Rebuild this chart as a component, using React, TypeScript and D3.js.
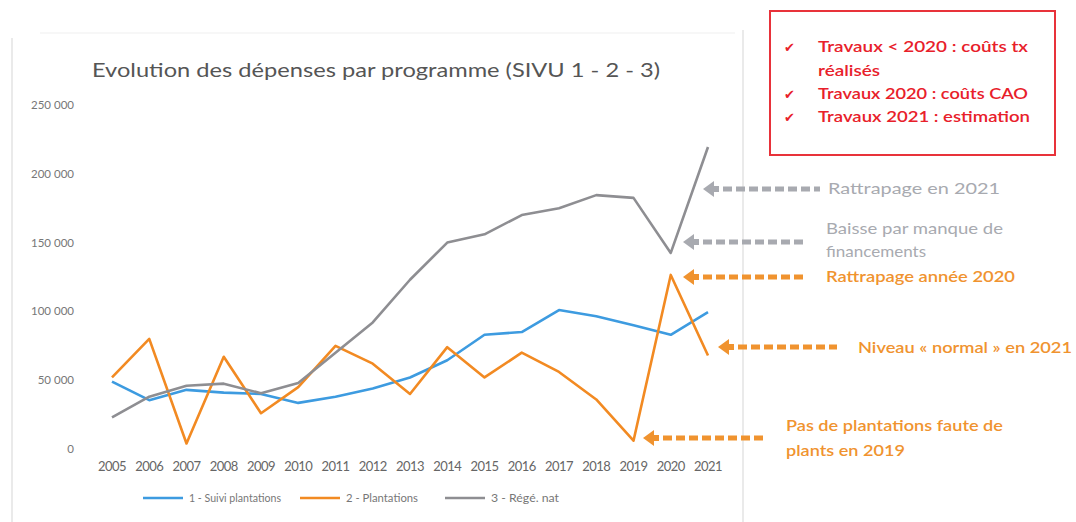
import React from "react";
import * as d3 from "d3";

const years = [2005, 2006, 2007, 2008, 2009, 2010, 2011, 2012, 2013, 2014, 2015, 2016, 2017, 2018, 2019, 2020, 2021];
const suiviPlantations = [49000, 35500, 43000, 41000, 40000, 33500, 38000, 44000, 52000, 64500, 83000, 85000, 101000, 96500, 90000, 83000, 99500];
const plantations = [52000, 80000, 4000, 67000, 26000, 45000, 75000, 62000, 40000, 74000, 52000, 70000, 56000, 36000, 6000, 126500, 68000];
const regeNat = [23000, 38000, 46000, 47500, 40500, 48000, 70000, 92000, 123000, 150000, 156000, 170000, 175000, 184500, 182500, 142500, 219500];
const yTicks = [0, 50000, 100000, 150000, 200000, 250000];
const seriesNames = ["1 - Suivi plantations", "2 - Plantations", "3 - Régé. nat"];
const seriesColors = ["#3d9be0", "#f28a22", "#8e8e92"];
const boxLines = ["Travaux < 2020 : coûts tx", "réalisés", "Travaux 2020 : coûts CAO", "Travaux 2021 : estimation"];

const FONT = "Lato, 'Open Sans', sans-serif";
const GRAY_ANN = "#a8aab0";
const ORANGE_ANN = "#f0932f";

function Arrow({ x1, x2, y, color }: { x1: number; x2: number; y: number; color: string }) {
  const head = `M${x1},${y} L${x1 + 11},${y - 8} L${x1 + 11},${y - 3} L${x1 + 16},${y - 3} L${x1 + 16},${y + 3} L${x1 + 11},${y + 3} L${x1 + 11},${y + 8} Z`;
  return (
    <g>
      <path d={head} fill={color} />
      <line x1={x1 + 20} x2={x2} y1={y} y2={y} stroke={color} strokeWidth={5} strokeDasharray="9 4" />
    </g>
  );
}

function Ann({ x, y, w, color, bold, children }: { x: number; y: number; w: number; color: string; bold?: boolean; children: string }) {
  return (
    <text x={x} y={y} fontSize={15} fill={color} fontWeight={bold ? 600 : 400} textLength={w} lengthAdjust="spacingAndGlyphs">
      {children}
    </text>
  );
}

export default function App() {
  const x = d3.scalePoint<number>().domain(years).range([112, 708]);
  const y = d3.scaleLinear().domain([0, 250000]).range([449, 105]);
  const line = d3
    .line<number>()
    .x((_, i) => x(years[i]) as number)
    .y((d) => y(d));
  const allSeries = [suiviPlantations, plantations, regeNat];
  const legendX = [143, 300, 445];
  const legendW = [92, 72, 68];

  const boxRows = [
    { t: boxLines[0], y: 52, check: true, w: 210 },
    { t: boxLines[1], y: 76, check: false, w: 62 },
    { t: boxLines[2], y: 99, check: true, w: 210 },
    { t: boxLines[3], y: 122, check: true, w: 212 },
  ];

  return (
    <svg width={1076} height={522} style={{ position: "absolute", left: 0, top: 0, background: "#fff" }} fontFamily={FONT}>
      <rect width={1076} height={522} fill="#fff" />
      {/* chart frame */}
      <line x1={12} x2={12} y1={38} y2={522} stroke="#dcdcdc" strokeWidth={1.2} />
      <line x1={743} x2={743} y1={30} y2={522} stroke="#dcdcdc" strokeWidth={1.2} />
      <line x1={40} x2={735} y1={33} y2={33} stroke="#efefef" strokeWidth={1} />

      <text x={92} y={77} fontSize={19} fill="#555" textLength={568} lengthAdjust="spacingAndGlyphs">
        Evolution des dépenses par programme (SIVU 1 - 2 - 3)
      </text>

      {yTicks.map((t) => (
        <text key={t} x={74} y={y(t) + 4} fontSize={11.5} fill="#777" textAnchor="end">
          {d3.format(",")(t).replace(/,/g, " ")}
        </text>
      ))}
      {years.map((yr) => (
        <text key={yr} x={x(yr)} y={471} fontSize={13} fill="#666" textAnchor="middle" letterSpacing={-0.5}>
          {yr}
        </text>
      ))}

      {allSeries.map((s, i) => (
        <path key={i} d={line(s) || ""} fill="none" stroke={seriesColors[i]} strokeWidth={2.6} strokeLinejoin="round" />
      ))}

      {/* legend */}
      {seriesNames.map((n, i) => (
        <g key={n}>
          <line x1={legendX[i]} x2={legendX[i] + 40} y1={498} y2={498} stroke={seriesColors[i]} strokeWidth={2.6} />
          <text x={legendX[i] + 46} y={502} fontSize={11.5} fill="#777" textLength={legendW[i]} lengthAdjust="spacingAndGlyphs">
            {n}
          </text>
        </g>
      ))}

      {/* red box */}
      <rect x={770} y={11} width={285} height={144} fill="#fff" stroke="#e8323a" strokeWidth={2} />
      {boxRows.map((l, i) => (
        <g key={i}>
          {l.check && (
            <text x={784} y={l.y} fontSize={13} fill="#e8202a" fontFamily="'DejaVu Sans', sans-serif">
              ✔
            </text>
          )}
          <text x={818} y={l.y} fontSize={15} fill="#e8202a" fontWeight={600} textLength={l.w} lengthAdjust="spacingAndGlyphs">
            {l.t}
          </text>
        </g>
      ))}

      {/* annotations */}
      <Arrow x1={703} x2={820} y={189} color={GRAY_ANN} />
      <Ann x={828} y={194} w={172} color={GRAY_ANN}>Rattrapage en 2021</Ann>
      <Arrow x1={683} x2={805} y={242} color={GRAY_ANN} />
      <Ann x={826} y={234} w={177} color={GRAY_ANN}>Baisse par manque de</Ann>
      <Ann x={826} y={257} w={100} color={GRAY_ANN}>financements</Ann>

      <Arrow x1={683} x2={805} y={277} color={ORANGE_ANN} />
      <Ann x={826} y={282} w={189} color={ORANGE_ANN} bold>Rattrapage année 2020</Ann>
      <Arrow x1={718} x2={837} y={347} color={ORANGE_ANN} />
      <Ann x={858} y={353} w={214} color={ORANGE_ANN} bold>Niveau « normal » en 2021</Ann>
      <Arrow x1={643} x2={763} y={438} color={ORANGE_ANN} />
      <Ann x={786} y={431} w={217} color={ORANGE_ANN} bold>Pas de plantations faute de</Ann>
      <Ann x={786} y={456} w={119} color={ORANGE_ANN} bold>plants en 2019</Ann>
    </svg>
  );
}
